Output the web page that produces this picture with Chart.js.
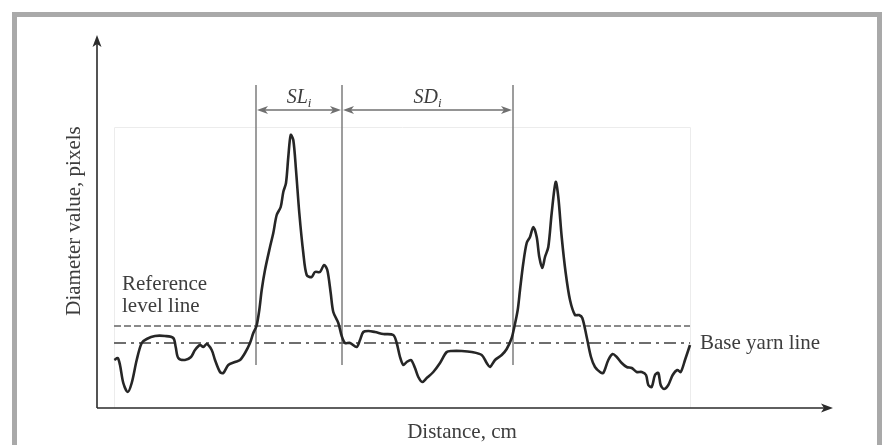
<!DOCTYPE html>
<html>
<head>
<meta charset="utf-8">
<title>Yarn diameter profile</title>
<script src="https://cdn.jsdelivr.net/npm/chart.js@4/dist/chart.umd.min.js"></script>
<style>
  body { margin: 0; background: #fff; }
  canvas { display: block; }
</style>
</head>
<body>
<canvas id="yarnChart" width="882" height="445"></canvas>
<script>
const distance = [
    1.73, 2.07, 2.3, 2.63, 3.07, 3.47, 3.97, 4.47, 4.97, 5.8, 6.8, 7.63, 7.87, 8.13, 8.8, 9.4,
    9.8, 10.3, 10.63, 10.97, 11.47, 11.8, 12.3, 12.63, 13.13, 13.8, 14.3, 14.8, 15.3, 15.63, 15.95,
    16.23, 16.47, 16.8, 17.3, 17.63, 17.97, 18.37, 18.63, 18.9, 19.13, 19.37, 19.63, 19.9, 20.23,
    20.63, 20.97, 21.47, 21.8, 22.3, 22.7, 23.03, 23.37, 23.63, 24.13, 24.47, 24.8, 25.3, 25.97,
    26.3, 26.63, 27.13, 27.8, 28.63, 29.63, 29.97, 30.3, 30.63, 30.97, 31.4, 31.8, 32.13, 32.53,
    32.97, 33.63, 34.3, 34.97, 35.47, 36.47, 37.47, 38.47, 38.97, 39.3, 39.8, 40.47, 40.97, 41.47,
    41.73, 42.07, 42.3, 42.63, 42.97, 43.3, 43.63, 43.97, 44.23, 44.53, 44.8, 45.13, 45.47, 45.87,
    46.13, 46.47, 46.87, 47.3, 47.8, 48.2, 48.53, 48.97, 49.4, 49.8, 50.3, 50.63, 51.13, 51.57,
    51.97, 52.47, 52.97, 53.47, 53.97, 54.47, 54.9, 55.13, 55.47, 55.8, 56.13, 56.37, 56.7, 57.13,
    57.57, 58.03, 58.37, 58.8, 59.3
];
const diameter = [
    48, 50, 43, 25, 16, 25, 48, 65, 69, 72, 72, 70, 61, 50, 48, 51,
    58, 63, 61, 64, 58, 48, 36, 35, 43, 46, 48, 55, 65, 75, 82,
    98, 118, 138, 161, 175, 193, 201, 216, 225, 251, 273, 268, 238, 195,
    155, 133, 131, 136, 136, 143, 138, 115, 96, 85, 72, 65, 65, 61,
    68, 76, 77, 76, 74, 73, 65, 51, 43, 46, 48, 40, 31, 26,
    30, 36, 45, 56, 57, 57, 56, 53, 45, 41, 48, 53, 59, 70,
    81, 98, 118, 145, 165, 171, 181, 171, 151, 140, 151, 161, 195, 226,
    211, 171, 135, 108, 93, 93, 90, 71, 51, 41, 36, 35, 48, 54,
    51, 45, 41, 40, 36, 36, 33, 23, 21, 33, 35, 23, 19, 23,
    33, 38, 36, 48, 63
];

const referenceLevel = 82;
const baseLevel = 65;
const segmentMarks = [15.9, 24.5, 41.6];   // borders of SL_i and SD_i
const markRange = [43, 323];
const arrowLevel = 298;
const frameX = [1.7, 59.3];
const frameTop = 281;
const axisMax = { x: 73.6, y: 373 };

const textColor = "#3d3d3d";
const serif = "'Liberation Serif', 'DejaVu Serif', serif";

function xy(xs, ys) {
    return xs.map((x, i) => ({ x, y: ys[i] }));
}

const markDatasets = segmentMarks.map(m => ({
    data: xy([m, m], markRange),
    borderColor: "#858585",
    borderWidth: 1.6,
    pointRadius: 0
}));

// scheme drawing: frame, axes with arrows, dimension arrows and labels
const schemePlugin = {
    id: "scheme",
    beforeDatasetsDraw(chart) {
        const ctx = chart.ctx;
        const sx = chart.scales.x, sy = chart.scales.y;
        ctx.save();
        ctx.strokeStyle = "#ececec";
        ctx.lineWidth = 1;
        const l = Math.round(sx.getPixelForValue(frameX[0])) + 0.5;
        const r = Math.round(sx.getPixelForValue(frameX[1])) + 0.5;
        const t = Math.round(sy.getPixelForValue(frameTop)) + 0.5;
        const b = sy.getPixelForValue(0);
        ctx.beginPath();
        ctx.moveTo(l, b);
        ctx.lineTo(l, t);
        ctx.lineTo(r, t);
        ctx.lineTo(r, b);
        ctx.stroke();
        ctx.restore();
    },
    afterDatasetsDraw(chart) {
        const ctx = chart.ctx;
        const sx = chart.scales.x, sy = chart.scales.y;
        const x0 = sx.getPixelForValue(0), x1 = sx.getPixelForValue(axisMax.x);
        const y0 = sy.getPixelForValue(0), y1 = sy.getPixelForValue(axisMax.y);
        ctx.save();

        // outer picture frame
        ctx.strokeStyle = "#a9a9a9";
        ctx.lineWidth = 5;
        ctx.strokeRect(14.5, 14.5, 865, 460);

        // axes
        ctx.strokeStyle = "#2b2b2b";
        ctx.fillStyle = "#2b2b2b";
        ctx.lineWidth = 1.6;
        ctx.beginPath();
        ctx.moveTo(x0, y0);
        ctx.lineTo(x0, y1 + 6);
        ctx.moveTo(x0, y0);
        ctx.lineTo(x1 - 6, y0);
        ctx.stroke();
        ctx.beginPath();
        ctx.moveTo(x0, y1);
        ctx.lineTo(x0 - 4.5, y1 + 12);
        ctx.lineTo(x0, y1 + 9);
        ctx.lineTo(x0 + 4.5, y1 + 12);
        ctx.closePath();
        ctx.fill();
        ctx.beginPath();
        ctx.moveTo(x1, y0);
        ctx.lineTo(x1 - 12, y0 - 4.5);
        ctx.lineTo(x1 - 9, y0);
        ctx.lineTo(x1 - 12, y0 + 4.5);
        ctx.closePath();
        ctx.fill();

        // dimension arrows between the marks
        const ay = sy.getPixelForValue(arrowLevel);
        ctx.strokeStyle = "#707070";
        ctx.fillStyle = "#707070";
        ctx.lineWidth = 1.4;
        for (let i = 0; i < segmentMarks.length - 1; i++) {
            const a = sx.getPixelForValue(segmentMarks[i]) + 1;
            const b = sx.getPixelForValue(segmentMarks[i + 1]) - 1;
            ctx.beginPath();
            ctx.moveTo(a + 4, ay);
            ctx.lineTo(b - 4, ay);
            ctx.stroke();
            [[a, 1], [b, -1]].forEach(([p, d]) => {
                ctx.beginPath();
                ctx.moveTo(p, ay);
                ctx.lineTo(p + d * 11, ay - 4);
                ctx.lineTo(p + d * 8, ay);
                ctx.lineTo(p + d * 11, ay + 4);
                ctx.closePath();
                ctx.fill();
            });
        }

        // SL_i and SD_i labels
        ctx.fillStyle = textColor;
        ctx.textBaseline = "alphabetic";
        const subLabel = (main, cx) => {
            ctx.font = "italic 20px " + serif;
            const w1 = ctx.measureText(main).width;
            ctx.font = "italic 13px " + serif;
            const w2 = ctx.measureText("i").width;
            const start = cx - (w1 + w2) / 2;
            ctx.font = "italic 20px " + serif;
            ctx.textAlign = "left";
            ctx.fillText(main, start, ay - 7);
            ctx.font = "italic 13px " + serif;
            ctx.fillText("i", start + w1, ay - 3);
        };
        subLabel("SL", (sx.getPixelForValue(segmentMarks[0]) + sx.getPixelForValue(segmentMarks[1])) / 2);
        subLabel("SD", (sx.getPixelForValue(segmentMarks[1]) + sx.getPixelForValue(segmentMarks[2])) / 2);

        // plain labels
        ctx.font = "21px " + serif;
        ctx.textAlign = "left";
        ctx.fillText("Reference", sx.getPixelForValue(2.5), 290);
        ctx.fillText("level line", sx.getPixelForValue(2.5), 312);
        ctx.textBaseline = "middle";
        ctx.fillText("Base yarn line", sx.getPixelForValue(frameX[1]) + 10, sy.getPixelForValue(baseLevel));
        ctx.textAlign = "center";
        ctx.textBaseline = "alphabetic";
        ctx.fillText("Distance, cm", (x0 + x1) / 2 - 3, 438);
        ctx.save();
        ctx.translate(80, 221);
        ctx.rotate(-Math.PI / 2);
        ctx.fillText("Diameter value, pixels", 0, 0);
        ctx.restore();

        ctx.restore();
    }
};

new Chart(document.getElementById("yarnChart"), {
    type: "scatter",
    data: {
        datasets: [
            {
                data: xy(distance, diameter),
                showLine: true,
                borderColor: "#262626",
                borderWidth: 2.6,
                pointRadius: 0,
                tension: 0.3
            },
            {
                data: xy(frameX, [referenceLevel, referenceLevel]),
                showLine: true,
                borderColor: "#8a8a8a",
                borderWidth: 2.2,
                borderDash: [7, 3],
                pointRadius: 0
            },
            {
                data: xy(frameX, [baseLevel, baseLevel]),
                showLine: true,
                borderColor: "#6e6e6e",
                borderWidth: 2.2,
                borderDash: [12, 5, 3, 5],
                pointRadius: 0
            },
            ...markDatasets.map(d => ({ ...d, showLine: true }))
        ]
    },
    options: {
        responsive: false,
        animation: false,
        devicePixelRatio: 1,
        layout: { padding: { left: 97, right: 49, top: 35, bottom: 37 } },
        plugins: {
            legend: { display: false },
            tooltip: { enabled: false }
        },
        scales: {
            x: { type: "linear", min: 0, max: axisMax.x, display: false },
            y: { type: "linear", min: 0, max: axisMax.y, display: false }
        }
    },
    plugins: [schemePlugin]
});
</script>
</body>
</html>
